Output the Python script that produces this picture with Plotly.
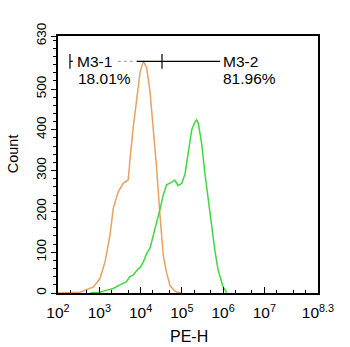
import plotly.graph_objects as go

# --- data (log10 of PE-H, count) ---
orange_log = [2.0, 2.53, 2.86, 3.02, 3.14, 3.26, 3.34, 3.46, 3.58, 3.70, 3.74, 3.82, 3.91, 3.99, 4.07,
              4.15, 4.23, 4.31, 4.39, 4.47, 4.55, 4.63, 4.71, 4.80, 4.88, 5.0]
orange_cnt = [0, 2, 15, 36, 77, 142, 208, 248, 269, 277, 322, 404, 477, 542, 569,
              551, 493, 404, 306, 191, 93, 50, 20, 8, 2, 0]

green_log = [2.78, 3.02, 3.18, 3.34, 3.50, 3.66, 3.74, 3.82, 3.95, 3.99, 4.07, 4.15, 4.23, 4.35, 4.47,
             4.55, 4.63, 4.75, 4.83, 4.91, 5.0, 5.08, 5.16, 5.24, 5.32, 5.36, 5.40, 5.48, 5.56,
             5.64, 5.72, 5.80, 5.88, 6.0, 6.09]
green_cnt = [0, 2, 7, 11, 20, 28, 40, 44, 60, 62, 77, 97, 110, 155, 205,
             240, 265, 271, 277, 263, 269, 293, 342, 400, 420, 424, 416, 367, 293,
             228, 162, 105, 56, 15, 1]

gate_y = 568
gate1 = [2.29, 4.52]
gate2 = [4.52, 5.93]
gate_labels = ["M3-1", "M3-2"]
gate_pcts = ["18.01%", "81.96%"]

x_tickexp = [2, 3, 4, 5, 6, 7, 8.3]
x_ticktext = ["10<sup>%s</sup>" % (str(e) if e != int(e) else str(int(e))) for e in x_tickexp]
y_tickvals = [0, 100, 200, 300, 400, 500, 630]

fig = go.Figure()
fig.add_trace(go.Scatter(x=[10 ** v for v in orange_log], y=orange_cnt, mode="lines",
                         line=dict(color="#E8A263", width=1.5), showlegend=False))
fig.add_trace(go.Scatter(x=[10 ** v for v in green_log], y=green_cnt, mode="lines",
                         line=dict(color="#3FD83F", width=1.5), showlegend=False))

# gate lines
blk = dict(color="black", width=1.2)
fig.add_trace(go.Scatter(x=[10 ** gate1[0], 10 ** 2.36], y=[gate_y, gate_y], mode="lines", line=blk, showlegend=False))
fig.add_trace(go.Scatter(x=[10 ** 3.45, 10 ** 3.91], y=[gate_y, gate_y], mode="lines",
                         line=dict(color="#999999", width=1, dash="dot"), showlegend=False))
fig.add_trace(go.Scatter(x=[10 ** 3.91, 10 ** gate2[1]], y=[gate_y, gate_y], mode="lines", line=blk, showlegend=False))
for e in [gate1[0], gate1[1]]:
    fig.add_trace(go.Scatter(x=[10 ** e, 10 ** e], y=[gate_y - 18, gate_y + 18], mode="lines", line=blk, showlegend=False))

font = dict(family="Liberation Sans, Arial", size=15.5, color="black")
fig.add_annotation(x=2.41, y=gate_y, text=gate_labels[0], showarrow=False, xanchor="left", yanchor="middle", font=font)
fig.add_annotation(x=2.44, y=gate_y - 42, text=gate_pcts[0], showarrow=False, xanchor="left", yanchor="middle", font=font)
fig.add_annotation(x=5.95, y=gate_y, text=gate_labels[1], showarrow=False, xanchor="left", yanchor="middle", font=font)
fig.add_annotation(x=5.95, y=gate_y - 42, text=gate_pcts[1], showarrow=False, xanchor="left", yanchor="middle", font=font)

fig.add_annotation(xref="paper", yref="paper", x=-0.173, y=0.54, text="Count", textangle=-90,
                   showarrow=False, font=dict(family="Liberation Sans, Arial", size=14.5, color="black"),
                   xanchor="center", yanchor="middle")
fig.add_annotation(xref="paper", yref="paper", x=0.504, y=-0.17, text="PE-H",
                   showarrow=False, font=dict(family="Liberation Sans, Arial", size=16, color="black"),
                   xanchor="center", yanchor="middle", borderpad=0)

fig.update_layout(
    width=350, height=347,
    margin=dict(l=58, r=32, t=36, b=54, autoexpand=False),
    plot_bgcolor="white", paper_bgcolor="white",
    font=font,
    xaxis=dict(type="log", range=[2, 8.3], tickvals=[10 ** e for e in x_tickexp], ticktext=x_ticktext,
               tickangle=0, automargin=False, ticklabelstandoff=5,
               ticks="inside", ticklen=6, tickcolor="black", showline=True, linecolor="black", linewidth=1.5,
               mirror=True, showgrid=False, zeroline=False, tickfont=dict(size=15.5),
               minor=dict(ticks="inside", ticklen=3, tickcolor="black", showgrid=False)),
    yaxis=dict(range=[0, 630], tickvals=y_tickvals, ticks="outside", ticklen=5, tickcolor="black",
               tickangle=-90, automargin=False, showline=True, linecolor="black", linewidth=1.5, mirror=True,
               showgrid=False, zeroline=False, tickfont=dict(size=13.5),
               minor=dict(ticks="outside", ticklen=3, dtick=20, tickcolor="black", showgrid=False)),
)

fig.write_html("out.html")
